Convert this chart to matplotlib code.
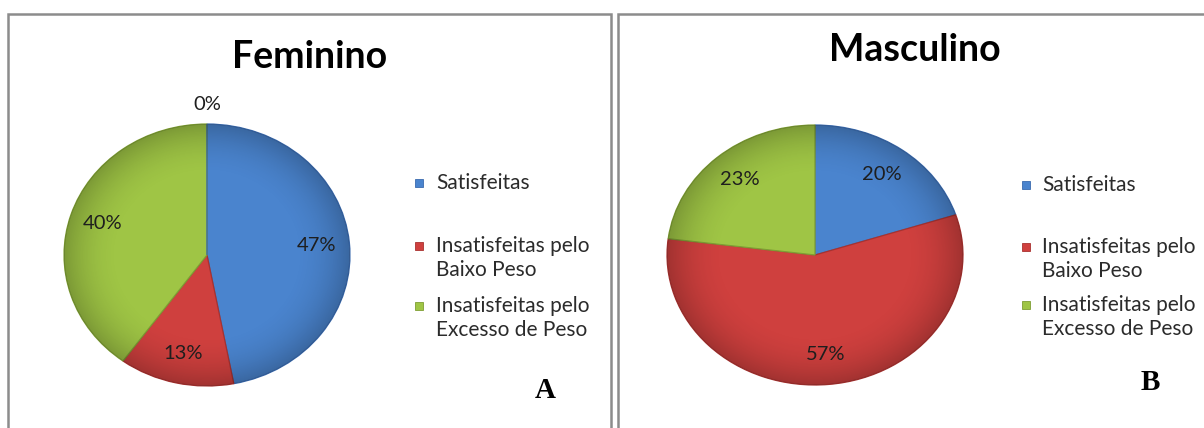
import numpy as np
import matplotlib.pyplot as plt
from matplotlib.patches import Rectangle, Circle

plt.rcParams['font.family'] = ['Lato', 'DejaVu Sans']

W, H = 1204, 428

categorias = ['Satisfeitas', 'Insatisfeitas pelo\nBaixo Peso', 'Insatisfeitas pelo\nExcesso de Peso']
feminino = [47, 13, 40, 0]   # the original shows an extra empty slice labelled 0%
masculino = [20, 57, 23]
titulos = ['Feminino', 'Masculino']
letras = ['A', 'B']

cores = ['#4A84CE', '#CF403E', '#9FC545']
bordas = ['#3A6AAE', '#A83230', '#7E9E34']

fig = plt.figure(figsize=(W / 100, H / 100), dpi=100, facecolor='white')


def rect_px(x, y, w, h):
    # pixel box (from top-left) -> figure fraction
    return [x / W, 1 - (y + h) / H, w / W, h / H]


# panel frames (bottom / right edges run off the picture)
for x0, x1 in [(8, 611), (618, 1215)]:
    fig.patches.append(Rectangle((x0 / W, -0.05), (x1 - x0) / W, 1 - 14 / H + 0.05,
                                 transform=fig.transFigure, fill=False,
                                 edgecolor='#8c8c8c', linewidth=1.8))


def draw_pie(cx, cy, rx, ry, valores):
    ax = fig.add_axes(rect_px(cx - rx, cy - ry, 2 * rx, 2 * ry))
    cols = [cores[i % 3] for i in range(len(valores))]
    wedges, _ = ax.pie(valores, colors=cols, startangle=90, counterclock=False,
                       wedgeprops=dict(linewidth=0.9))
    for i, w in enumerate(wedges):
        w.set_edgecolor(bordas[i % 3])

    # soft rim shading like the office-style pie
    n = 300
    g = np.linspace(-1, 1, n)
    X, Y = np.meshgrid(g, g)
    R = np.hypot(X, Y)
    img = np.zeros((n, n, 4))
    img[..., 3] = 0.22 * np.clip((R - 0.6) / 0.4, 0, 1) ** 2
    im = ax.imshow(img, extent=(-1, 1, -1, 1), origin='lower', zorder=3, aspect='auto')
    im.set_clip_path(Circle((0, 0), 1, transform=ax.transData))

    for w, v in zip(wedges, valores):
        mid = np.deg2rad((w.theta1 + w.theta2) / 2)
        d = 1.15 if v == 0 else 0.77
        ax.text(d * np.cos(mid), d * np.sin(mid), f'{v}%', ha='center', va='center',
                fontsize=14.5, color='#1e1e1e', zorder=5)

    ax.set_aspect('auto')
    ax.set_xlim(-1, 1)
    ax.set_ylim(-1, 1)
    ax.axis('off')
    return ax


def draw_legend(x_sq, x_txt, ys):
    for cat, cor, borda, y in zip(categorias, cores, bordas, ys):
        fig.patches.append(Rectangle((x_sq / W, 1 - (y + 4) / H), 8 / W, 8 / H,
                                     transform=fig.transFigure, facecolor=cor,
                                     edgecolor=borda, linewidth=0.6))
        for j, linha in enumerate(cat.split('\n')):
            fig.text(x_txt / W, 1 - (y + 24 * j) / H, linha, ha='left', va='center',
                     fontsize=15, color='#2b2b2b')


draw_pie(207, 255, 143, 131, feminino)
draw_pie(815, 255, 148, 130, masculino)

draw_legend(415, 436, [183, 246, 306])
draw_legend(1022, 1042, [185, 247, 305])

fig.text(310 / W, 1 - 57 / H, titulos[0], ha='center', va='center',
         fontsize=27, fontweight='bold', color='black')
fig.text(915 / W, 1 - 50 / H, titulos[1], ha='center', va='center',
         fontsize=27, fontweight='bold', color='black')

fig.text(545 / W, 1 - 390 / H, letras[0], ha='center', va='center',
         family='Liberation Serif', fontweight='bold', fontsize=21)
fig.text(1150 / W, 1 - 383 / H, letras[1], ha='center', va='center',
         family='Liberation Serif', fontweight='bold', fontsize=21)

fig.savefig('out.png', dpi=100, facecolor='white')
